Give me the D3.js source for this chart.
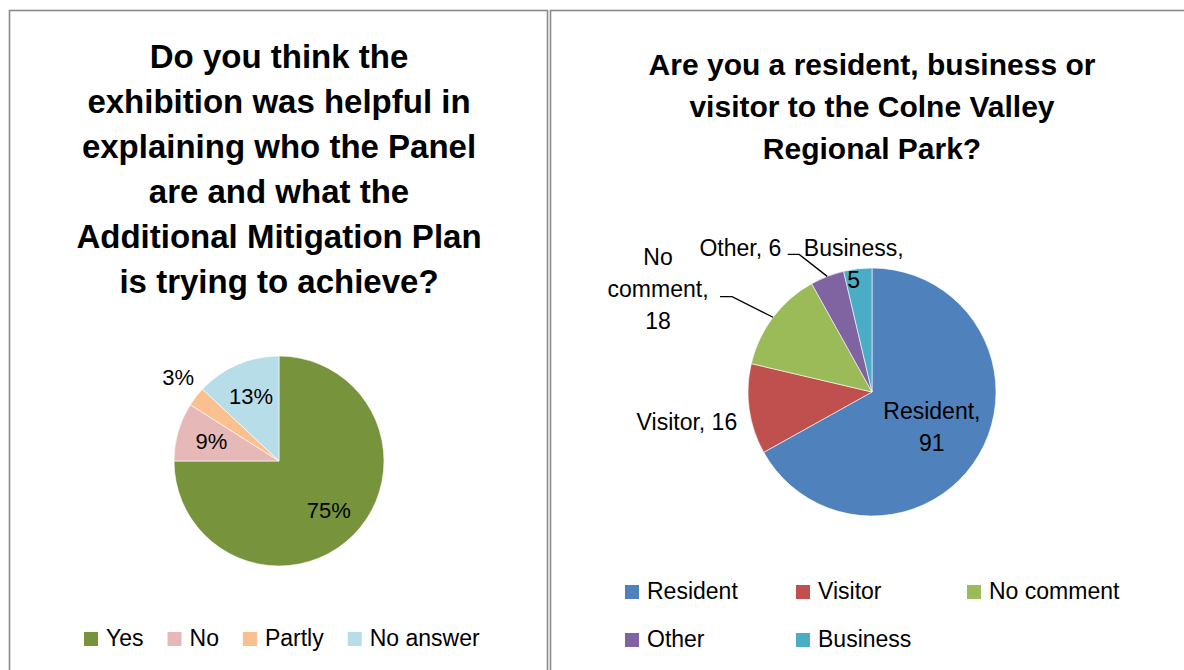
<!DOCTYPE html>
<html>
<head>
<meta charset="utf-8">
<script src="https://cdn.jsdelivr.net/npm/d3@7/dist/d3.min.js"></script>
<style>
  html, body { margin: 0; padding: 0; background: #ffffff; }
  svg { display: block; font-family: "Liberation Sans", Arial, sans-serif; }
</style>
</head>
<body>
<svg id="chart" width="1184" height="670"></svg>
<script>
// ---------- data ----------
const leftTitleLines = [
  "Do you think the",
  "exhibition was helpful in",
  "explaining who the Panel",
  "are and what the",
  "Additional Mitigation Plan",
  "is trying to achieve?"
];
const leftCategories = ["Yes", "No", "Partly", "No answer"];
const leftValues = [75, 9, 3, 13];               // percent
const leftColors = ["#77933C", "#E6B9B8", "#FAC090", "#B7DEE8"];

const rightTitleLines = [
  "Are you a resident, business or",
  "visitor to the Colne Valley",
  "Regional Park?"
];
const rightCategories = ["Resident", "Visitor", "No comment", "Other", "Business"];
const rightValues = [91, 16, 18, 6, 5];          // counts
const rightColors = ["#4F81BD", "#C0504D", "#9BBB59", "#8064A2", "#4BACC6"];

// ---------- layout ----------
const svg = d3.select("#chart");

// panel frames
svg.append("rect").attr("x", 9.5).attr("y", 10.5).attr("width", 538).attr("height", 700)
  .attr("fill", "none").attr("stroke", "#8a8a8a").attr("stroke-width", 1.6);
svg.append("rect").attr("x", 550.5).attr("y", 10.5).attr("width", 700).attr("height", 700)
  .attr("fill", "none").attr("stroke", "#8a8a8a").attr("stroke-width", 1.6);

const pie = d3.pie().sort(null).value(d => d.value).startAngle(0).endAngle(2 * Math.PI);

// ================= LEFT CHART =================
const L = { cx: 279, cy: 461, r: 105 };
const leftG = svg.append("g");

leftG.selectAll("text.title").data(leftTitleLines).join("text")
  .attr("class", "title")
  .attr("x", L.cx).attr("y", (d, i) => 68 + i * 45)
  .attr("text-anchor", "middle")
  .attr("font-size", 33).attr("font-weight", "bold").attr("fill", "#000")
  .text(d => d);

const leftData = leftCategories.map((c, i) => ({ cat: c, value: leftValues[i], color: leftColors[i] }));
const leftArcs = pie(leftData);
const leftArc = d3.arc().innerRadius(0).outerRadius(L.r);
const pL = leftG.append("g").attr("transform", `translate(${L.cx},${L.cy})`);
pL.selectAll("path").data(leftArcs).join("path")
  .attr("d", leftArc).attr("fill", d => d.data.color)
  .attr("stroke", "#ffffff").attr("stroke-width", 0.6);

const leftTotal = d3.sum(leftValues);
const leftInner = d3.arc().innerRadius(L.r * 0.67).outerRadius(L.r * 0.67);
const leftEdge = d3.arc().innerRadius(L.r).outerRadius(L.r);
leftArcs.forEach(a => {
  const frac = a.data.value / leftTotal;
  const label = a.data.value + "%";
  if (frac >= 0.05) {
    const [x, y] = leftInner.centroid(a);
    pL.append("text").attr("x", x).attr("y", y)
      .attr("text-anchor", "middle").attr("dominant-baseline", "central")
      .attr("font-size", 22).attr("fill", "#000").text(label);
  } else {
    const [x, y] = leftEdge.centroid(a);
    pL.append("text").attr("x", x - 2).attr("y", y - 12)
      .attr("text-anchor", "end")
      .attr("font-size", 22).attr("fill", "#000").text(label);
  }
});

// left legend
const legL = leftG.append("g");
let lx = 84;
leftData.forEach(d => {
  legL.append("rect").attr("x", lx).attr("y", 632).attr("width", 14).attr("height", 14).attr("fill", d.color);
  const t = legL.append("text").attr("x", lx + 22).attr("y", 646)
    .attr("font-size", 23).attr("fill", "#000").text(d.cat);
  lx += 22 + t.node().getComputedTextLength() + 24;
});

// ================= RIGHT CHART =================
const R = { cx: 872, cy: 392, r: 124 };
const rightG = svg.append("g");

rightG.selectAll("text.title").data(rightTitleLines).join("text")
  .attr("class", "title")
  .attr("x", R.cx).attr("y", (d, i) => 75 + i * 42)
  .attr("text-anchor", "middle")
  .attr("font-size", 30).attr("font-weight", "bold").attr("fill", "#000")
  .text(d => d);

const rightData = rightCategories.map((c, i) => ({ cat: c, value: rightValues[i], color: rightColors[i] }));
const rightArcs = pie(rightData);
const rightArc = d3.arc().innerRadius(0).outerRadius(R.r);
const pR = rightG.append("g").attr("transform", `translate(${R.cx},${R.cy})`);
pR.selectAll("path").data(rightArcs).join("path")
  .attr("d", rightArc).attr("fill", d => d.data.color)
  .attr("stroke", "#ffffff").attr("stroke-width", 0.6);

const rightEdge = d3.arc().innerRadius(R.r).outerRadius(R.r);
const rightInner = d3.arc().innerRadius(R.r * 0.56).outerRadius(R.r * 0.56);
const FS = 23, LH = 32;

function multiText(g, x, y0, lines) {
  const t = g.append("text").attr("text-anchor", "middle").attr("font-size", FS).attr("fill", "#000");
  lines.forEach((ln, i) => t.append("tspan").attr("x", x).attr("y", y0 + i * LH).text(ln));
  return t;
}
function leader(g, pts) {
  g.append("path").attr("d", d3.line()(pts)).attr("fill", "none")
    .attr("stroke", "#000").attr("stroke-width", 1.3);
}

rightArcs.forEach(a => {
  const name = a.data.cat, v = a.data.value;
  const [px, py] = rightEdge.centroid(a);
  if (name === "Resident") {
    const [x, y] = rightInner.centroid(a);
    multiText(pR, x, y - 8, [name + ",", String(v)]);
  } else if (name === "Visitor") {
    pR.append("text").attr("x", px - 12).attr("y", py + 21).attr("text-anchor", "end")
      .attr("font-size", FS).attr("fill", "#000").text(name + ", " + v);
  } else if (name === "No comment") {
    leader(pR, [[px, py], [px - 41, py - 20.6], [px - 53, py - 20.6]]);
    multiText(pR, px - 115, py - 52, ["No", "comment,", String(v)]);
  } else if (name === "Other") {
    leader(pR, [[px, py], [px - 28, py - 22], [px - 39.5, py - 22]]);
    pR.append("text").attr("x", px - 46).attr("y", py - 20).attr("text-anchor", "end")
      .attr("font-size", FS).attr("fill", "#000").text(name + ", " + v);
  } else if (name === "Business") {
    multiText(pR, px - 4, py - 13, [name + ",", String(v)]);
  }
});

// right legend (3 columns grid)
const legR = rightG.append("g");
rightData.forEach((d, i) => {
  const col = i % 3, row = Math.floor(i / 3);
  const x = 625 + col * 171, yb = 599 + row * 48;
  legR.append("rect").attr("x", x).attr("y", yb - 14).attr("width", 14).attr("height", 14).attr("fill", d.color);
  legR.append("text").attr("x", x + 22).attr("y", yb)
    .attr("font-size", 23).attr("fill", "#000").text(d.cat);
});
</script>
</body>
</html>
